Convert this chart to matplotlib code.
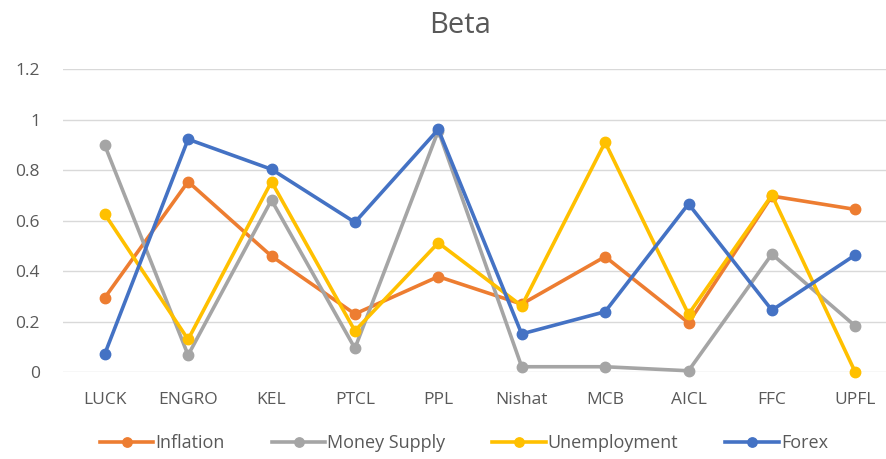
import matplotlib.pyplot as plt

companies = ["LUCK", "ENGRO", "KEL", "PTCL", "PPL", "Nishat", "MCB", "AICL", "FFC", "UPFL"]
inflation = [0.295, 0.755, 0.46, 0.231, 0.379, 0.27, 0.458, 0.196, 0.698, 0.645]
money_supply = [0.90, 0.068, 0.682, 0.095, 0.957, 0.022, 0.022, 0.006, 0.468, 0.183]
unemployment = [0.627, 0.13, 0.755, 0.164, 0.513, 0.263, 0.911, 0.23, 0.702, 0.0]
forex = [0.072, 0.923, 0.804, 0.594, 0.962, 0.152, 0.24, 0.667, 0.246, 0.465]

plt.rcParams['font.family'] = ['Open Sans', 'DejaVu Sans']
text_col = '#595959'

fig = plt.figure(figsize=(8.87, 4.59), dpi=100)
# axes placed in pixels of the 887x459 image
ax = fig.add_axes([63 / 887, 1 - 372.3 / 459, (887 - 63) / 887, (372.3 - 69.3) / 459])

x = range(len(companies))
series = [("Inflation", inflation, '#ED7D31'),
          ("Money Supply", money_supply, '#A5A5A5'),
          ("Unemployment", unemployment, '#FFC000'),
          ("Forex", forex, '#4472C4')]
for name, vals, col in series:
    ax.plot(x, vals, color=col, lw=2.6, marker='o', ms=7.5, label=name, clip_on=False)

ax.set_xlim(-0.5, 9.38)
ax.set_ylim(0, 1.2)
ax.set_yticks([0, 0.2, 0.4, 0.6, 0.8, 1.0, 1.2])
ax.set_yticklabels(["0", "0.2", "0.4", "0.6", "0.8", "1", "1.2"])
ax.set_xticks(list(x))
ax.set_xticklabels(companies)
ax.grid(axis='y', color='#D9D9D9', lw=1)
ax.set_axisbelow(True)
for s in ax.spines.values():
    s.set_visible(False)
ax.tick_params(length=0, colors=text_col, labelsize=12.5)
ax.tick_params(axis='y', pad=16.5)
ax.tick_params(axis='x', pad=14)

fig.text(460 / 887, 1 - 33 / 459, "Beta", ha='center', va='baseline', fontsize=21, color=text_col)

fig.legend(loc='center', bbox_to_anchor=(464 / 887, 1 - 443 / 459), ncol=4, frameon=False,
           fontsize=13, labelcolor=text_col, handlelength=2.95, handletextpad=0.12,
           columnspacing=2.6, markerscale=0.9)

fig.savefig('out.png', dpi=100)
